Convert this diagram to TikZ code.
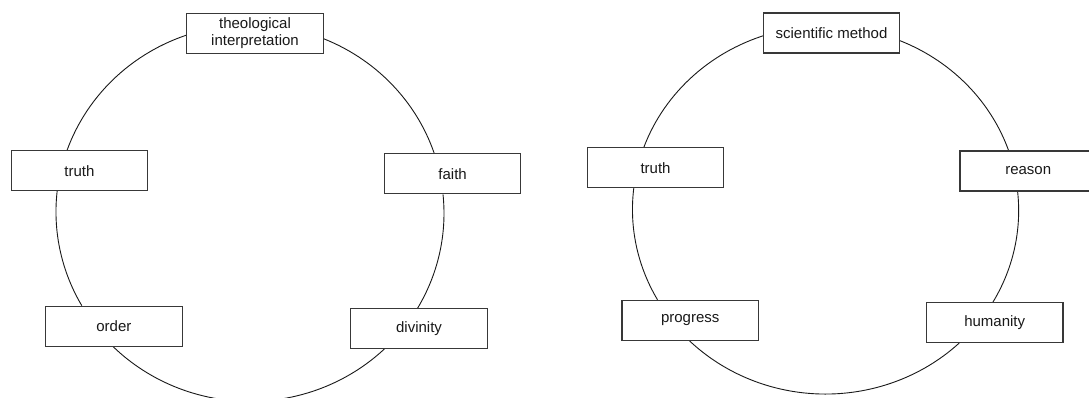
\documentclass[tikz,border=0pt]{standalone}
\usepackage{fontspec}
\setmainfont{Liberation Sans}
\usetikzlibrary{backgrounds}
\begin{document}
\begin{tikzpicture}[x=1pt,y=1pt,
  box/.style={draw=black!78, line width=1.1pt, fill=white,
    minimum width=136.5pt, minimum height=40pt, inner sep=0pt,
    align=center, font=\fontsize{15}{17}\selectfont, text=black!90},
  ring/.style={draw=black!90, line width=0.9pt},
  ellL/.style={x radius=194pt, y radius=188.2pt},
  ellR/.style={x radius=193.1pt, y radius=183.3pt}]
\useasboundingbox (0,0) rectangle (1089,-398);

% left cycle
\node[box] (theo)     at (255,-33.3)  {theological\\interpretation};
\node[box] (truthL)   at (79.5,-170.7) {truth};
\node[box] (faith)    at (452.6,-173.8) {faith};
\node[box] (order)    at (113.9,-326.2) {order};
\node[box] (divinity) at (419,-328.3)  {divinity};

% right cycle
\node[box] (sci)      at (831.5,-33)   {scientific method};
\node[box] (truthR)   at (655.5,-167.7) {truth};
\node[box] (reason)   at (1028.2,-171) {reason};
\node[box] (progress) at (690.2,-320.3) {progress};
\node[box] (humanity) at (994.7,-322.5) {humanity};

\begin{pgfonlayer}{background}
  % arcs of the left ring, each leaving one box and running into the next
  \draw[ring] ([xshift=-12.4pt]truthL.north) arc[ellL, start angle=160.5, end angle=106];
  \draw[ring] ([yshift=-5.5pt]theo.east)     arc[ellL, start angle=67.7, end angle=15];
  \draw[ring] ([xshift=-9.6pt]faith.south)   arc[ellL, start angle=5.8, end angle=-33];
  \draw[ring] ([xshift=-34.5pt]divinity.south) arc[ellL, start angle=-46.1, end angle=-138];
  \draw[ring] ([xshift=-32.1pt]order.north)  arc[ellL, start angle=-150.1, end angle=-190];
  % arcs of the right ring
  \draw[ring] ([xshift=-11.6pt]truthR.north) arc[ellR, start angle=160.2, end angle=106];
  \draw[ring] ([xshift=-0.8pt,yshift=-7.5pt]sci.east) arc[ellR, start angle=67.6, end angle=15];
  \draw[ring] ([xshift=-10.6pt]reason.south) arc[ellR, start angle=6, end angle=-33];
  \draw[ring] ([xshift=-35.5pt]humanity.south) arc[ellR, start angle=-46.2, end angle=-138];
  \draw[ring] ([xshift=-32.7pt]progress.north) arc[ellR, start angle=-150.5, end angle=-190];
\end{pgfonlayer}
\end{tikzpicture}
\end{document}
